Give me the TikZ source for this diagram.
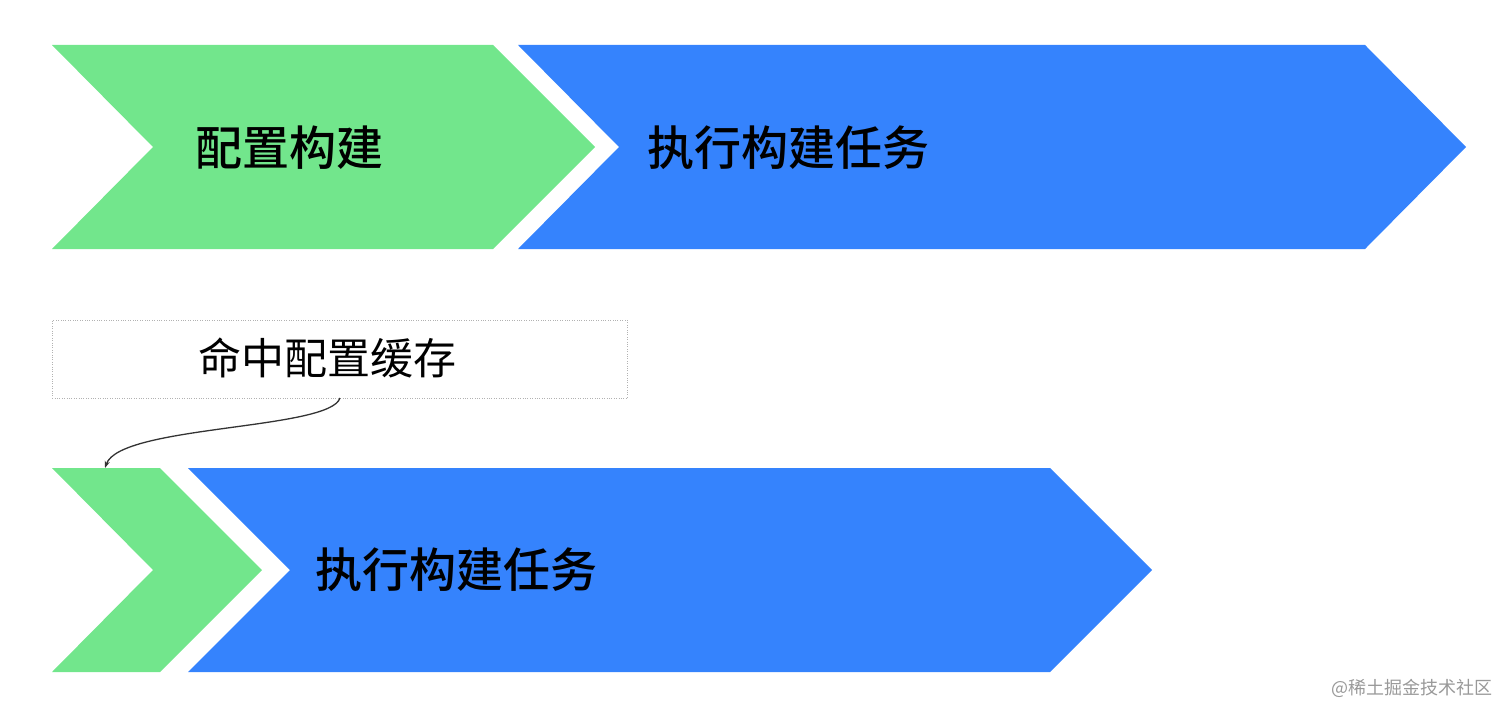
\documentclass[tikz,border=0pt]{standalone}
\usepackage{fontspec}
\newfontfamily\cjk{Noto Sans CJK SC}
\newfontfamily\cjkm{Noto Sans CJK SC Medium}
\usetikzlibrary{arrows.meta}
\definecolor{gr}{HTML}{72E68C}
\definecolor{bl}{HTML}{3583FD}
\tikzset{lbl/.style={font=\cjkm\fontsize{47}{52}\selectfont, anchor=west, inner sep=0}}
\begin{document}
\begin{tikzpicture}[x=1pt,y=-1pt]
\useasboundingbox (0,0) rectangle (1512,717);
\fill[gr] (52,45)--(493,45)--(595,147)--(493,249)--(52,249)--(153,147)--cycle;
\fill[bl] (518,45)--(1365,45)--(1466,147)--(1365,249)--(518,249)--(619,147)--cycle;
\node[lbl] (a) at (195,148) {配置构建};
\node[lbl] (b) at (647,148) {执行构建任务};
\node[draw=gray!60,dotted,minimum width=575pt,minimum height=78pt,anchor=north west,inner sep=0] (box) at (52,320) {};
\node[font=\cjk\fontsize{43}{46}\selectfont,inner sep=0] (boxt) at (327,358) {命中配置缓存};
\fill[gr] (52,468)--(160,468)--(262,570)--(160,672)--(52,672)--(153,570)--cycle;
\fill[bl] (188,468)--(1050,468)--(1152,570)--(1050,672)--(188,672)--(290,570)--cycle;
\node[lbl] (c) at (315,570) {执行构建任务};
\coordinate (s) at (340,398);
\coordinate (e) at (105,468);
\draw[gray!40!black,line width=1.3pt,-{Stealth[length=7pt,width=5pt]}] (s) .. controls (330,430) and (120,425) .. (e);
\node[font=\cjk\fontsize{18}{20}\selectfont,text=gray!80,anchor=east,inner sep=0] (w) at (1493,688) {@稀土掘金技术社区};
\end{tikzpicture}
\end{document}
